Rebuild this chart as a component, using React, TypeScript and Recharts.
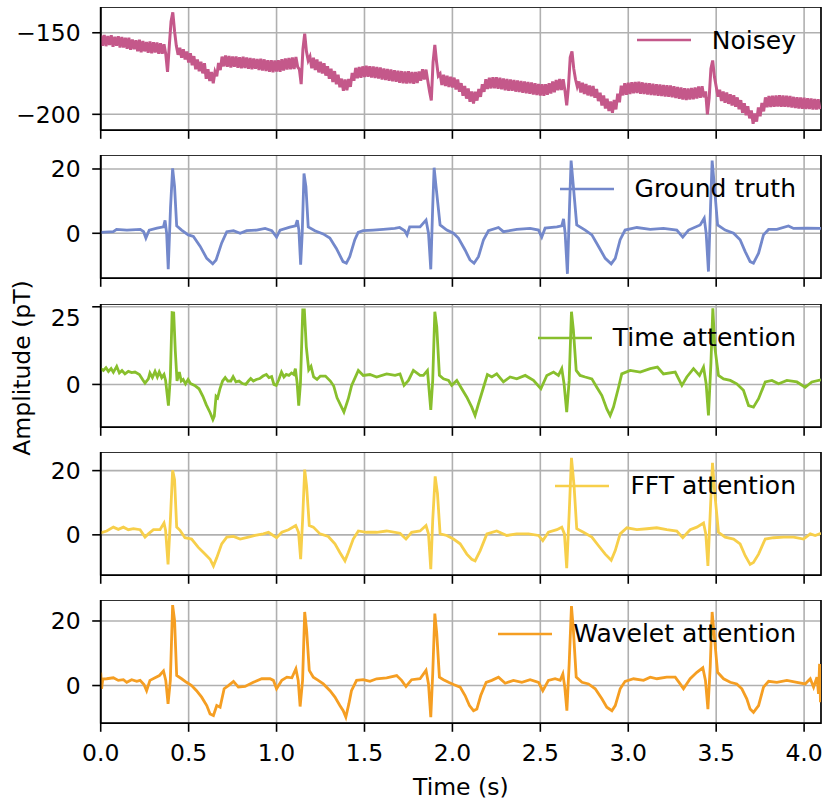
import React from 'react';
import { LineChart, Line, XAxis, YAxis, CartesianGrid, ReferenceArea, Legend } from 'recharts';

const FONT = '"DejaVu Sans", "Liberation Sans", sans-serif';

// shared time axis
const xTicks = [0, 0.5, 1, 1.5, 2, 2.5, 3, 3.5, 4];
const xMax = 4.096;

// Noisy signal, sampled every 0.01 s starting at 0
const noisyStep = 0.01;
const noisy = [
  -151.6, -157.9, -151.3, -158.2, -152.0, -157.5, -151.5, -158.6, -152.4, -158.0,
  -152.2, -159.1, -152.6, -159.0, -153.1, -159.8, -153.0, -160.4, -154.2, -160.1,
  -154.6, -161.3, -154.2, -161.9, -155.1, -161.4, -155.6, -162.2, -155.3, -162.5,
  -155.8, -162.1, -156.0, -162.8, -156.4, -162.9, -157.0, -163.1, -174.0, -158.0,
  -143.0, -137.5, -149.0, -158.0, -163.5, -159.2, -165.3, -160.1, -166.4, -161.5,
  -168.2, -162.6, -169.9, -164.3, -172.4, -166.4, -173.6, -167.8, -174.9, -168.7,
  -178.2, -172.4, -179.6, -174.1, -181.0, -173.9, -176.7, -168.5, -172.9, -164.6,
  -170.6, -163.9, -170.8, -164.2, -171.3, -164.5, -170.9, -164.6, -171.4, -165.0,
  -171.8, -164.7, -171.6, -165.2, -172.1, -165.4, -172.4, -165.8, -172.0, -166.1,
  -172.8, -165.9, -173.2, -166.3, -173.5, -166.8, -173.9, -166.9, -174.2, -167.0,
  -173.8, -166.9, -173.9, -166.2, -173.1, -165.8, -172.6, -165.4, -172.4, -165.2,
  -172.3, -164.8, -170.9, -172.5, -181.5, -160.0, -150.5, -161.5, -167.0, -164.6,
  -171.8, -165.3, -172.9, -166.4, -174.3, -167.8, -175.0, -168.7, -176.3, -170.5,
  -178.2, -172.0, -180.2, -173.5, -181.6, -175.7, -183.4, -178.1, -185.6, -178.6,
  -185.3, -178.3, -183.2, -174.6, -179.4, -171.5, -177.9, -171.0, -177.6, -170.6,
  -177.1, -170.2, -177.0, -170.5, -177.5, -170.7, -177.8, -171.0, -178.0, -171.3,
  -178.7, -171.9, -178.9, -172.2, -179.4, -172.5, -179.8, -173.0, -180.1, -173.3,
  -180.6, -173.5, -180.9, -173.8, -181.2, -173.6, -181.0, -174.0, -181.3, -174.1,
  -180.8, -173.7, -179.4, -172.3, -178.6, -172.6, -179.5, -186.0, -191.5, -168.0,
  -157.5, -168.0, -176.5, -175.2, -182.0, -175.8, -182.6, -176.4, -183.2, -176.9,
  -183.6, -177.5, -184.8, -178.6, -186.2, -180.9, -188.6, -182.6, -190.4, -184.2,
  -192.3, -186.0, -193.4, -186.2, -191.6, -184.4, -189.3, -181.6, -186.2, -178.5,
  -184.5, -177.6, -184.1, -177.3, -184.0, -177.2, -184.3, -177.5, -184.7, -178.0,
  -185.2, -178.4, -185.6, -178.7, -185.5, -179.0, -186.1, -179.3, -186.3, -179.6,
  -186.8, -179.9, -187.1, -180.1, -187.4, -180.5, -187.9, -181.0, -188.2, -181.4,
  -188.5, -181.5, -188.7, -181.6, -188.0, -180.9, -187.2, -179.8, -186.5, -178.9,
  -185.3, -178.3, -185.1, -178.5, -185.5, -194.5, -183.0, -165.0, -161.5, -172.0,
  -178.5, -183.0, -179.8, -186.6, -180.6, -187.5, -181.4, -188.4, -182.3, -189.0,
  -182.6, -189.8, -184.5, -191.9, -186.8, -194.6, -188.5, -196.5, -190.4, -198.0,
  -192.1, -199.1, -191.2, -197.0, -187.3, -192.6, -182.5, -188.4, -181.0, -188.0,
  -180.6, -187.5, -180.3, -187.1, -180.1, -187.0, -180.0, -187.4, -180.4, -187.6,
  -180.8, -187.8, -181.0, -188.1, -181.3, -188.3, -181.5, -188.6, -181.7, -188.8,
  -182.0, -189.1, -182.2, -189.3, -182.3, -189.6, -182.8, -190.0, -183.3, -190.4,
  -183.6, -190.9, -184.0, -191.3, -184.2, -191.0, -183.9, -190.8, -183.5, -190.3,
  -183.0, -189.9, -182.8, -189.6, -186.0, -200.0, -190.0, -172.0, -167.0, -177.0,
  -183.0, -189.2, -185.0, -191.8, -186.0, -192.9, -186.6, -193.6, -187.7, -194.6,
  -188.3, -195.4, -189.6, -196.9, -191.3, -199.0, -193.2, -200.6, -195.0, -202.5,
  -197.6, -205.8, -199.5, -204.5, -195.8, -201.2, -193.0, -198.2, -189.6, -195.7,
  -188.7, -195.5, -188.6, -195.3, -188.4, -195.2, -188.3, -195.3, -188.5, -195.4,
  -188.6, -195.6, -188.8, -195.9, -189.3, -196.2, -189.5, -196.4, -189.7, -196.6,
  -189.9, -196.7, -190.1, -196.8, -190.3, -197.0, -190.6, -197.1, -190.8, -196.9,
];

// [time (s), amplitude (pT)]
const groundTruth: [number, number][] = [
  [0, 0.3], [0.072, 0.5], [0.09, 1.2], [0.149, 1], [0.225, 1.2], [0.244, 0.5], [0.257, -1.5], [0.276, 1],
  [0.32, 1.6], [0.357, 2], [0.366, 4], [0.375, 0], [0.384, -11.2], [0.397, 8], [0.409, 20.2], [0.42, 14.5],
  [0.432, 2.3], [0.46, 1], [0.498, -0.5], [0.527, -1], [0.565, -4], [0.603, -7.8], [0.637, -9.5], [0.656, -8.3],
  [0.688, -3], [0.717, 0.5], [0.755, 0.8], [0.793, 0], [0.83, 0.8], [0.887, 1], [0.935, 1.5], [0.973, 0.8],
  [1.0, -1.2], [1.02, 1], [1.076, 1.9], [1.108, 2.3], [1.118, 4.1], [1.127, 1], [1.137, -9.8], [1.146, 0],
  [1.156, 18.6], [1.167, 14.5], [1.18, 2], [1.218, 0.8], [1.265, -0.2], [1.303, -1.5], [1.34, -4.7], [1.378, -8.8],
  [1.397, -9.3], [1.416, -7.3], [1.445, -2], [1.464, 0.3], [1.492, 0.8], [1.549, 1], [1.606, 1.2], [1.672, 1.5],
  [1.7, 1.8], [1.729, 0.8], [1.742, -0.5], [1.757, 2], [1.816, 2], [1.85, 4.1], [1.864, 0], [1.877, -11.2],
  [1.888, 8.3], [1.896, 20.4], [1.907, 14.5], [1.93, 2.6], [1.968, 1], [2.006, 0], [2.034, -1.5], [2.072, -5.2],
  [2.1, -8.3], [2.123, -9.3], [2.148, -7.3], [2.177, -2], [2.205, 0.8], [2.262, 1.8], [2.29, 0.5], [2.366, 1.2],
  [2.442, 1.5], [2.49, 1], [2.508, -1.2], [2.527, 1.6], [2.594, 2], [2.622, 2.3], [2.632, 4.5], [2.641, 0],
  [2.654, -12.6], [2.666, 8.3], [2.675, 22.6], [2.688, 14.5], [2.707, 2.6], [2.755, 1], [2.793, -0.5], [2.831, -4.1],
  [2.869, -7.8], [2.903, -9.5], [2.926, -7.8], [2.954, -2], [2.982, 1], [3.049, 1.8], [3.125, 1.2], [3.2, 1.5],
  [3.276, 1], [3.31, -1.2], [3.343, 1], [3.409, 2.6], [3.432, 4.7], [3.443, 0], [3.456, -11.9], [3.468, 8.3],
  [3.477, 22.6], [3.49, 14.5], [3.508, 2.6], [3.551, 1], [3.599, 0], [3.636, -2], [3.665, -5.7], [3.693, -8.8],
  [3.712, -9.3], [3.741, -6.2], [3.769, -0.5], [3.798, 1.2], [3.845, 1.2], [3.911, 2.3], [3.94, 1.5], [4.016, 1.6],
  [4.096, 1.5],
];

const timeAttention: [number, number][] = [
  [0, 5.1], [0.015, 4.5], [0.03, 5.4], [0.044, 4.2], [0.059, 5.1], [0.072, 3.9], [0.091, 5.8], [0.106, 3.7],
  [0.121, 4.5], [0.138, 3.4], [0.157, 4.2], [0.176, 3.8], [0.195, 4.0], [0.22, 3.2], [0.239, 1.5], [0.252, 0.4],
  [0.271, 1.8], [0.28, 3.7], [0.294, 2.2], [0.309, 4.2], [0.322, 2.4], [0.333, 4.0], [0.347, 2.2], [0.36, 3.2],
  [0.369, 1.3], [0.385, -6.8], [0.396, 2.4], [0.406, 23.1], [0.415, 23.0], [0.424, 11], [0.434, 1.1], [0.447, 4.0],
  [0.458, 1.1], [0.469, 1.6], [0.482, 0.2], [0.497, 1.6], [0.51, 0.3], [0.534, -0.3], [0.559, -1.4], [0.581, -3.8],
  [0.6, -6.5], [0.623, -9.2], [0.638, -11.3], [0.646, -10.2], [0.656, -3.8], [0.665, -4.3], [0.678, -1.4], [0.693, 1.1],
  [0.708, 2.2], [0.723, 1.1], [0.74, 1.1], [0.753, 2.5], [0.769, 0.8], [0.787, 1.1], [0.806, 0.3], [0.825, 0],
  [0.84, 1.1], [0.853, 1.9], [0.868, 1.1], [0.885, 1.6], [0.904, 1.9], [0.923, 2.7], [0.942, 3.2], [0.957, 2.2],
  [0.972, 2.5], [0.985, 0], [0.998, -0.3], [1.013, 1.6], [1.028, 4.0], [1.042, 2.4], [1.055, 3.2], [1.07, 2.9],
  [1.085, 3.7], [1.098, 3.2], [1.107, 5.1], [1.117, 0.5], [1.126, -6.8], [1.136, 0.5], [1.149, 24.0], [1.158, 24.0],
  [1.169, 12.2], [1.183, 4.7], [1.196, 5.8], [1.211, 2.4], [1.23, 1.6], [1.249, 2.7], [1.278, 2.7], [1.306, 1.1],
  [1.325, -0.5], [1.344, -4.3], [1.383, -8.9], [1.408, -4.6], [1.427, -0.3], [1.465, 4.5], [1.493, 2.9], [1.531, 3.2],
  [1.569, 2.4], [1.626, 3.4], [1.674, 2.9], [1.702, 3.4], [1.725, -0.3], [1.75, 1.3], [1.778, 4.5], [1.816, 2.9],
  [1.835, 2.9], [1.858, 4.5], [1.877, -8.2], [1.888, 1.3], [1.9, 23.4], [1.911, 18.5], [1.926, 2.9], [1.949, 1.8],
  [1.978, 1.3], [1.996, -0.3], [2.025, 1.3], [2.053, -1.4], [2.082, -4.1], [2.11, -7.3], [2.129, -10.0], [2.148, -6.3],
  [2.177, -0.9], [2.199, 3.2], [2.224, 2.4], [2.252, 3.4], [2.29, 0.8], [2.328, 2.4], [2.366, 1.8], [2.414, 2.9],
  [2.461, 1.3], [2.503, -1.4], [2.537, 2.9], [2.575, 4.0], [2.603, 2.9], [2.622, 5.1], [2.635, 0.2], [2.65, -8.9],
  [2.664, 1.3], [2.677, 23.4], [2.688, 17.5], [2.704, 4.5], [2.726, 2.9], [2.755, 2.4], [2.793, 1.8], [2.821, -0.9],
  [2.85, -3.6], [2.878, -7.9], [2.897, -10.0], [2.916, -7.3], [2.945, -0.9], [2.963, 3.4], [3.011, 4.5], [3.068, 4.0],
  [3.125, 5.1], [3.166, 5.6], [3.2, 3.4], [3.267, 4.0], [3.305, -0.3], [3.333, 2.4], [3.371, 5.1], [3.405, 2.9],
  [3.428, 5.6], [3.443, 0.2], [3.456, -10.0], [3.47, 6.7], [3.481, 24.5], [3.492, 12.1], [3.513, 2.9], [3.542, 1.8],
  [3.58, 1.3], [3.617, 0.2], [3.655, -1.9], [3.684, -6.8], [3.712, -7.3], [3.741, -4.6], [3.779, 0.8], [3.817, 1.3],
  [3.855, 0.2], [3.902, 1.3], [3.959, 0.8], [4.006, -0.9], [4.044, 0.8], [4.096, 1.5],
];

const fftAttention: [number, number][] = [
  [0, 0.6], [0.034, 1.2], [0.072, 2.4], [0.1, 1.7], [0.129, 2.4], [0.157, 1.6], [0.186, 1.9], [0.224, 1.6],
  [0.252, -0.7], [0.271, 0.3], [0.3, 1.6], [0.337, 1.6], [0.36, 3.7], [0.369, 1.4], [0.383, -9.2], [0.396, 4.5],
  [0.409, 20.1], [0.42, 17.2], [0.432, 2.4], [0.451, 1.4], [0.479, -0.9], [0.517, -1.3], [0.555, -3.9], [0.593, -6.0],
  [0.622, -7.6], [0.641, -9.7], [0.66, -7.1], [0.688, -2.8], [0.717, -0.7], [0.755, -0.5], [0.793, -1.3], [0.84, -0.7],
  [0.878, -0.2], [0.925, 0.3], [0.954, 0.8], [1.0, -0.9], [1.03, 0.8], [1.068, 1.6], [1.109, 2.9], [1.125, 0.8],
  [1.137, -7.6], [1.148, 4.5], [1.16, 20.3], [1.171, 15.1], [1.186, 2.9], [1.209, 2.4], [1.247, 0.3], [1.294, -0.5],
  [1.332, -2.8], [1.36, -5.5], [1.389, -8.1], [1.408, -5.5], [1.436, -1.3], [1.465, 1.2], [1.512, 0.8], [1.569, 0.8],
  [1.626, 1.2], [1.702, 0.5], [1.736, -1.3], [1.768, 0.8], [1.816, 1.2], [1.85, 2.9], [1.864, 0.3], [1.877, -10.7],
  [1.888, 4.5], [1.902, 18.2], [1.915, 12.9], [1.93, 0.3], [1.968, -0.2], [2.006, -1.3], [2.044, -2.8], [2.082, -6.0],
  [2.11, -7.6], [2.129, -8.1], [2.158, -4.9], [2.196, 0.3], [2.252, 1.2], [2.309, -0.2], [2.366, 0.3], [2.433, 0.3],
  [2.49, -0.2], [2.514, -1.8], [2.546, 0.8], [2.594, 1.6], [2.622, 2.4], [2.637, 0.3], [2.65, -10.4], [2.664, 6.6],
  [2.677, 24.0], [2.692, 15.1], [2.707, 1.9], [2.745, 0.8], [2.793, -0.7], [2.831, -3.4], [2.869, -6.0], [2.903, -7.9],
  [2.926, -4.9], [2.954, 0.3], [2.992, 2.2], [3.049, 1.6], [3.106, 1.9], [3.162, 2.2], [3.219, 1.6], [3.276, 1.2],
  [3.31, -0.9], [3.352, 1.6], [3.39, 2.4], [3.428, 3.7], [3.441, 0.3], [3.453, -9.7], [3.466, 6.6], [3.479, 22.4],
  [3.492, 12.9], [3.513, 0.8], [3.551, -0.7], [3.599, -1.3], [3.636, -2.8], [3.665, -6.5], [3.693, -9.2], [3.712, -8.6],
  [3.741, -6.0], [3.779, -1.3], [3.826, -0.9], [3.883, -0.7], [3.94, -0.7], [3.997, -1.3], [4.035, 0.3], [4.063, -0.2],
  [4.096, 0.5],
];

const waveletAttention: [number, number][] = [
  [0, 4.0], [0.005, -1.0], [0.012, 2.0], [0.034, 2.1], [0.072, 2.4], [0.1, 1.6], [0.129, 1.8], [0.148, 1.0],
  [0.176, 1.8], [0.205, 1.3], [0.224, 1.6], [0.246, 0.3], [0.261, -1.6], [0.28, 1.6], [0.309, 2.4], [0.334, 3.1],
  [0.357, 4.5], [0.37, 1.6], [0.383, -5.7], [0.396, 1.6], [0.409, 24.9], [0.42, 20.2], [0.432, 3.1], [0.46, 2.1],
  [0.488, 1.0], [0.517, 0.0], [0.545, -1.6], [0.574, -3.6], [0.603, -6.2], [0.622, -8.8], [0.641, -9.3], [0.66, -6.2],
  [0.679, -6.7], [0.702, -1.0], [0.726, 0.0], [0.755, 1.3], [0.783, -0.5], [0.821, -0.3], [0.868, 1.0], [0.916, 2.1],
  [0.963, 2.1], [0.982, 1.6], [1.0, -1.0], [1.03, 1.6], [1.059, 2.6], [1.087, 2.4], [1.11, 5.2], [1.123, 1.6],
  [1.134, -6.5], [1.148, 1.6], [1.16, 22.8], [1.171, 17.1], [1.186, 4.7], [1.209, 2.6], [1.237, 1.6], [1.266, 0.5],
  [1.304, -1.6], [1.332, -3.6], [1.36, -6.2], [1.379, -7.8], [1.394, -9.8], [1.411, -5.7], [1.426, -1.6], [1.455, 1.6],
  [1.493, 1.8], [1.531, 1.3], [1.569, 2.1], [1.626, 2.4], [1.683, 3.1], [1.711, 1.6], [1.736, -0.3], [1.768, 1.8],
  [1.816, 2.1], [1.85, 4.7], [1.864, 0.5], [1.877, -9.8], [1.888, 3.6], [1.9, 22.3], [1.911, 16.1], [1.926, 2.6],
  [1.949, 1.8], [1.978, 1.0], [2.006, 0.3], [2.044, -0.5], [2.072, -3.1], [2.097, -6.2], [2.12, -7.8], [2.139, -7.3],
  [2.161, -3.1], [2.192, 1.0], [2.224, 1.6], [2.262, 2.6], [2.3, 0.7], [2.347, 1.6], [2.395, 1.0], [2.442, 1.8],
  [2.49, 1.0], [2.514, -1.6], [2.546, 1.6], [2.584, 2.1], [2.613, 1.6], [2.628, 3.6], [2.639, -0.5], [2.651, -7.8],
  [2.664, 6.7], [2.677, 24.6], [2.688, 17.1], [2.704, 2.6], [2.737, 1.0], [2.774, 0.5], [2.812, -1.0], [2.85, -4.1],
  [2.878, -6.7], [2.907, -7.8], [2.926, -6.2], [2.954, -1.0], [2.982, 1.3], [3.03, 2.1], [3.087, 1.6], [3.125, 2.6],
  [3.163, 2.1], [3.219, 2.6], [3.267, 2.6], [3.295, 0.5], [3.314, -1.0], [3.352, 2.1], [3.39, 4.1], [3.424, 5.5],
  [3.439, 1.6], [3.453, -7.3], [3.466, 5.7], [3.477, 22.8], [3.49, 15.0], [3.508, 4.1], [3.542, 2.1], [3.58, 1.0],
  [3.617, 0.5], [3.646, -1.0], [3.674, -4.1], [3.693, -7.3], [3.712, -8.3], [3.741, -6.2], [3.769, -0.5], [3.798, 1.3],
  [3.845, 1.0], [3.902, 1.6], [3.959, 1.0], [4.006, 0.5], [4.035, 2.1], [4.054, -0.5], [4.073, 2.6], [4.082, -2.6],
  [4.088, 6.7], [4.093, -5.2],
];

// per-panel y ticks
const noisyTicks = [-200, -150];
const truthTicks = [0, 20];
const timeTicks = [0, 25];
const fftTicks = [0, 20];
const waveletTicks = [0, 20];

type Pt = { t: number; v: number };
const fromPairs = (p: [number, number][]): Pt[] => p.map(([t, v]) => ({ t, v }));
const noisyData: Pt[] = noisy.map((v, i) => ({ t: +(i * noisyStep).toFixed(2), v }));

const PLOT_H = 123.3;
const AXIS = { stroke: '#000', strokeWidth: 1.6 };
const fmtY = (v: number) => (v < 0 ? '\u2212' + Math.abs(v) : String(v));

type PanelProps = {
  top: number;
  data: Pt[];
  color: string;
  name: string;
  domain: [number, number];
  yTicks: number[];
  bottom?: boolean;
  lineWidth?: number;
};

function Panel({ top, data, color, name, domain, yTicks, bottom, lineWidth = 2.8 }: PanelProps) {
  const axisH = bottom ? 80 : 9;
  const height = PLOT_H + axisH;
  const legend = () => (
    <div
      style={{
        display: 'flex',
        alignItems: 'center',
        fontFamily: FONT,
        fontSize: 25,
        lineHeight: 1,
        color: '#000',
        whiteSpace: 'nowrap',
      }}
    >
      <svg width={54} height={4} style={{ display: 'block' }}>
        <line x1={0} y1={2} x2={54} y2={2} stroke={color} strokeWidth={2.6} />
      </svg>
      <span style={{ marginLeft: 21 }}>{name}</span>
    </div>
  );
  return (
    <div style={{ position: 'absolute', left: 0, top, width: 836, height }}>
      <LineChart width={836} height={height} data={data} margin={{ top: 0, right: 15, bottom: 0, left: 0 }}>
        <CartesianGrid stroke="#b0b0b0" strokeWidth={1.6} />
        <XAxis
          dataKey="t"
          type="number"
          domain={[0, xMax]}
          ticks={xTicks}
          allowDataOverflow
          height={axisH}
          axisLine={AXIS}
          tickLine={AXIS}
          tickSize={8.5}
          tickMargin={13}
          tick={{ fill: '#000', fontSize: 23.5, fontFamily: FONT }}
          tickFormatter={(v: number) => (bottom ? v.toFixed(1) : '')}
          label={
            bottom
              ? { value: 'Time (s)', position: 'insideBottom', offset: 8, fill: '#000', fontSize: 23.5, fontFamily: FONT }
              : undefined
          }
        />
        <YAxis
          type="number"
          domain={domain}
          ticks={yTicks}
          allowDataOverflow
          width={100.7}
          axisLine={AXIS}
          tickLine={AXIS}
          tickSize={8.5}
          tickMargin={11.5}
          tick={{ fill: '#000', fontSize: 23.5, fontFamily: FONT }}
          tickFormatter={fmtY}
        />
        <Line
          type="linear"
          dataKey="v"
          name={name}
          stroke={color}
          strokeWidth={lineWidth}
          dot={false}
          activeDot={false}
          isAnimationActive={false}
        />
        <ReferenceArea
          x1={0}
          x2={xMax}
          y1={domain[0]}
          y2={domain[1]}
          fill="none"
          fillOpacity={0}
          stroke="#000"
          strokeWidth={1.6}
          ifOverflow="visible"
        />
        <Legend
          content={legend}
          layout="horizontal"
          verticalAlign="middle"
          align="center"
          wrapperStyle={{ position: 'absolute', top: 21, right: 40, left: 'auto', bottom: 'auto', width: 'auto' }}
        />
      </LineChart>
    </div>
  );
}

export default function App() {
  return (
    <div style={{ position: 'absolute', left: 0, top: 0, width: 836, height: 804, background: '#fff' }}>
      <Panel top={6.7} data={noisyData} color="#C4588A" name="Noisey" domain={[-209.8, -134.2]} yTicks={noisyTicks} lineWidth={3} />
      <Panel top={155} data={fromPairs(groundTruth)} color="#7388CB" name="Ground truth" domain={[-14.0, 24.35]} yTicks={truthTicks} />
      <Panel top={304.3} data={fromPairs(timeAttention)} color="#88BF2D" name="Time attention" domain={[-13.8, 25.9]} yTicks={timeTicks} />
      <Panel top={452.3} data={fromPairs(fftAttention)} color="#F7CF4A" name="FFT attention" domain={[-12.6, 25.8]} yTicks={fftTicks} />
      <Panel top={600} data={fromPairs(waveletAttention)} color="#F59E22" name="Wavelet attention" domain={[-11.7, 26.5]} yTicks={waveletTicks} bottom />
      <svg width={60} height={804} style={{ position: 'absolute', left: 0, top: 0 }}>
        <text
          x={24}
          y={368}
          dy="0.26em"
          transform="rotate(-90 24 368)"
          textAnchor="middle"
          fontFamily={FONT}
          fontSize={23.5}
          fill="#000"
        >
          Amplitude (pT)
        </text>
      </svg>
    </div>
  );
}
